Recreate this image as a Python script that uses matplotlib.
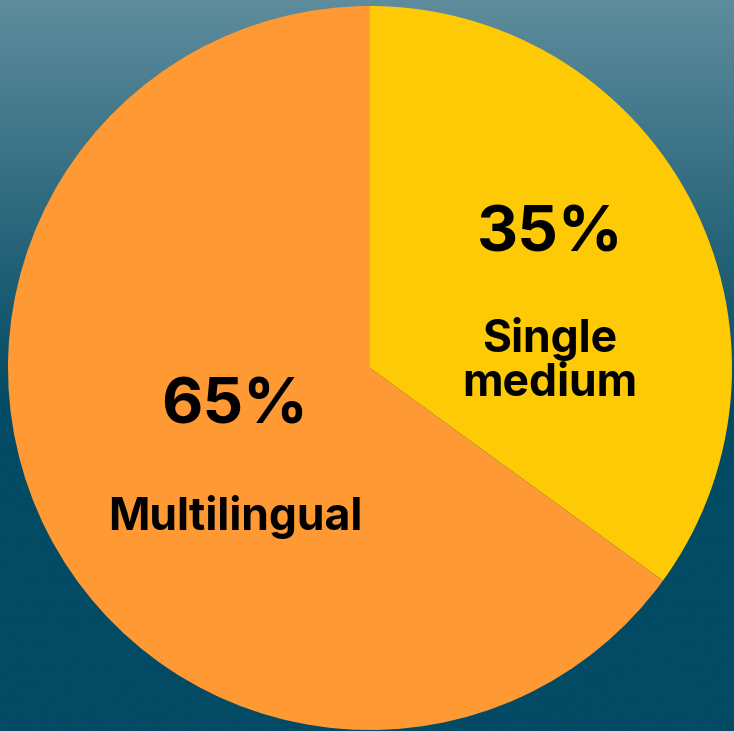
import numpy as np
import matplotlib
matplotlib.use("Agg")
import matplotlib.pyplot as plt
from matplotlib.colors import LinearSegmentedColormap

# Share of speakers by language setting
categories = ["Single\nmedium", "Multilingual"]
shares = [35, 65]
slice_colors = ["#FDCA05", "#FE9934"]

W, H = 734, 731
fig = plt.figure(figsize=(W / 100, H / 100), dpi=100)

# Vertical background gradient: light steel teal at the top fading to deep teal
bg = fig.add_axes([0, 0, 1, 1], zorder=0)
bg.set_axis_off()
cmap = LinearSegmentedColormap.from_list(
    "bg", [(0.0, "#5e8c9c"), (0.55, "#034a64"), (1.0, "#034a64")]
)
grad = np.linspace(0, 1, 512).reshape(-1, 1)
bg.imshow(grad, aspect="auto", cmap=cmap, extent=[0, 1, 1, 0])
bg.set_xlim(0, 1)
bg.set_ylim(1, 0)

ax = fig.add_axes([0, 0, 1, 1], zorder=1)
ax.set_axis_off()
ax.patch.set_alpha(0)

cx, cy, r = 370, H - 368, 362
wedges, _ = ax.pie(
    shares,
    colors=slice_colors,
    startangle=90,
    counterclock=False,
    center=(cx, cy),
    radius=r,
    frame=True,
    wedgeprops=dict(linewidth=0),
)
ax.set_xlim(0, W)
ax.set_ylim(0, H)
ax.set_aspect("equal")
ax.set_axis_off()

font = ["Inter", "DejaVu Sans"]
# Label positions (pixel coordinates from top-left)
pct_pos = [(550, 235), (235, 407)]
name_pos = [(550, 361), (235, 517)]

for share, name, (px, py), (nx, ny) in zip(shares, categories, pct_pos, name_pos):
    ax.text(px, H - py, f"{share}%", ha="center", va="center",
            fontsize=46, fontweight="bold", family=font, color="black")
    ax.text(nx, H - ny, name, ha="center", va="center", linespacing=1.07,
            fontsize=32, fontweight="bold", family=font, color="black")

fig.savefig("out.png", dpi=100)
